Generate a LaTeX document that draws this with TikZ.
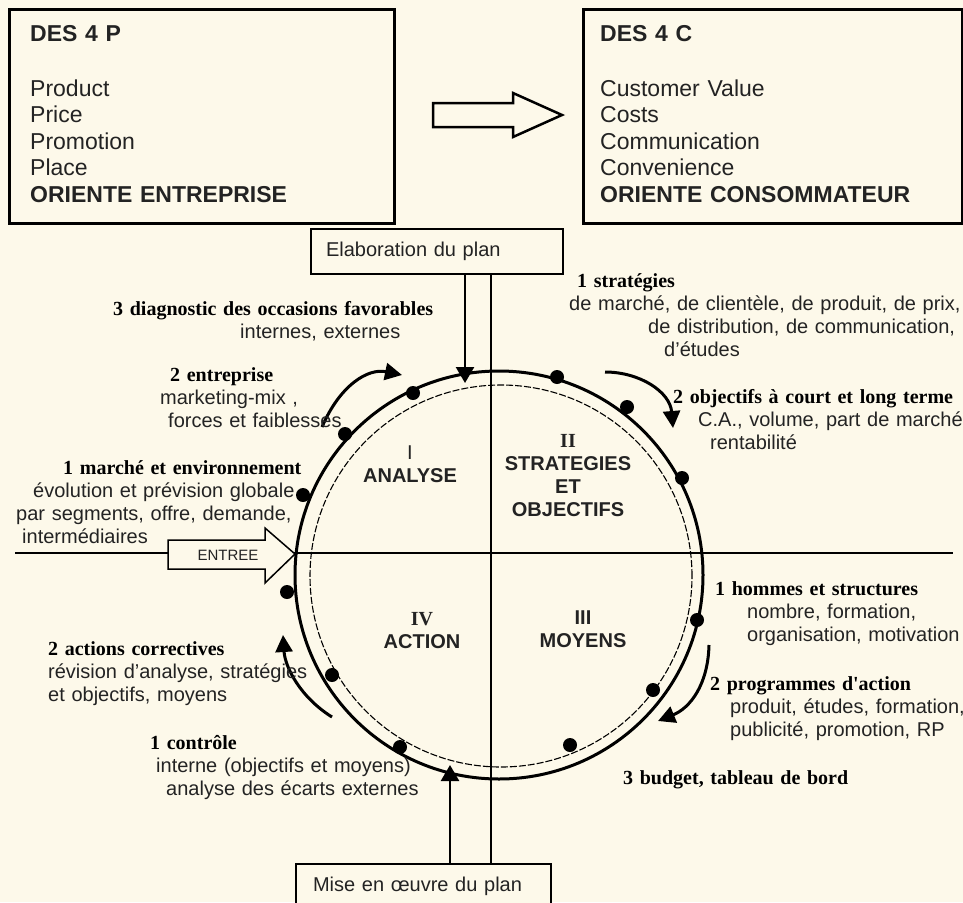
\documentclass[tikz,border=0pt]{standalone}
\usepackage{fontspec}
\setmainfont{Liberation Sans}
\newfontfamily\timesface{Liberation Serif}
\usetikzlibrary{arrows.meta}

\definecolor{paper}{RGB}{253,249,234}
\definecolor{ink}{RGB}{35,35,35}
\newcommand{\tmhead}[1]{{\timesface\bfseries\color{black}#1}}

\tikzset{
  bigbox/.style={draw, line width=2.5pt, anchor=north west, inner sep=0pt},
  boxtext/.style={font=\fontsize{23}{26.5}\selectfont, align=left, text width=345pt,
    inner sep=0pt, anchor=base west, text=ink},
  planbox/.style={draw, line width=2pt, fill=paper, anchor=north west,
    font=\fontsize{20}{23}\selectfont, align=left, text=ink},
  note/.style={font=\fontsize{20}{23}\selectfont, align=left, text width=330pt,
    inner sep=0pt, anchor=base west, text=ink},
  quad/.style={font=\bfseries\fontsize{20}{23}\selectfont, align=center, text width=150pt,
    inner sep=0pt, anchor=base, text=ink},
  blockarrow/.style={draw, line width=2.5pt, fill=paper, line join=miter},
  axis/.style={line width=2pt},
  feed/.style={line width=2.5pt, -{Triangle[length=16pt,width=18pt]}},
  loopback/.style={line width=3pt, -{Triangle[length=17pt,width=17pt]}},
  dot/.style={circle, fill, inner sep=0pt, minimum size=14pt},
}

\begin{document}
\begin{tikzpicture}[x=1pt, y=-1pt]
  \useasboundingbox (0,0) rectangle (963,902);
  \fill[paper] (0,0) rectangle (963,902);

  %% the two marketing mixes
  \node[bigbox, minimum width=385pt, minimum height=214pt] (box4p) at (8,8) {};
  \node[boxtext] (txt4p) at (30,41) {\textbf{DES 4 P}\\[28.5pt]Product\\Price\\Promotion\\Place\\\textbf{ORIENTE ENTREPRISE}};
  \node[bigbox, minimum width=379pt, minimum height=214pt] (box4c) at (582,8) {};
  \node[boxtext] (txt4c) at (600,41) {\textbf{DES 4 C}\\[28.5pt]Customer Value\\Costs\\Communication\\Convenience\\\textbf{ORIENTE CONSOMMATEUR}};
  \draw[blockarrow] (433,103) -- (513,103) -- (513,93) -- (562,115)
    -- (513,137) -- (513,127) -- (433,127) -- cycle; %% 4P -> 4C

  %% plan boxes
  \node[planbox, text width=222pt, inner xsep=15pt, minimum height=45pt] (elab) at (310,228) {Elaboration du plan};
  \node[planbox, text width=221pt, inner xsep=17pt, minimum height=45pt] (mise) at (295,863) {Mise en œuvre du plan};

  %% axes of the cycle
  \coordinate (hub) at (491,553);
  \coordinate (axisW) at (15,553);
  \coordinate (axisE) at (953,553);
  \draw[axis] (axisW) -- (axisE);
  \draw[axis] (elab.south -| hub) -- (mise.north -| hub);

  %% the cycle
  \node[circle, draw, line width=3pt, inner sep=0pt, minimum size=408pt] (outer) at (499,575) {};
  \node[circle, draw, line width=1.1pt, dash pattern=on 7pt off 2pt, inner sep=0pt, minimum size=382pt] (inner) at (501,576) {};
  \foreach \x/\y [count=\i] in {413/393, 345/434, 303/495, 557/377, 627/407, 682/478,
      287/592, 332/675, 400/747, 697/620, 653/690, 570/745}
    \node[dot] (step\i) at (\x,\y) {};

  %% entry arrow
  \draw[blockarrow, line width=1.5pt] (168,540) -- (265,540) -- (265,528) -- (295,554)
    -- (265,583) -- (265,569) -- (168,569) -- cycle;
  \node[font=\fontsize{15}{18}\selectfont, text=ink, inner sep=0pt] (entree) at (228,555) {ENTREE};

  %% plan -> cycle, cycle <- mise en oeuvre
  \coordinate (inTop) at (465,383);
  \coordinate (inBot) at (450,765);
  \draw[feed] (elab.south -| inTop) -- (inTop);
  \draw[feed] (mise.north -| inBot) -- (inBot);

  %% turning arrows
  \coordinate (loopA0) at (322,427); \coordinate (loopA1) at (402,375);
  \coordinate (loopB0) at (605,372); \coordinate (loopB1) at (673,428);
  \coordinate (loopC0) at (709,645); \coordinate (loopC1) at (658,721);
  \coordinate (loopD0) at (332,717); \coordinate (loopD1) at (283,635);
  \draw[loopback] (loopA0) .. controls (340,385) and (368,368) .. (loopA1);
  \draw[loopback] (loopB0) .. controls (640,372) and (670,392) .. (loopB1);
  \draw[loopback] (loopC0) .. controls (708,685) and (690,708) .. (loopC1);
  \draw[loopback] (loopD0) .. controls (300,697) and (285,667) .. (loopD1);

  %% quarters
  \node[quad] (qI) at (410,459) {{\mdseries I}\\ANALYSE};
  \node[quad] (qII) at (568,447) {{\timesface II}\\STRATEGIES\\ET\\OBJECTIFS};
  \node[quad] (qIII) at (583,624) {III\\MOYENS};
  \node[quad] (qIV) at (422,625) {{\timesface IV}\\ACTION};

  %% I analyse
  \node[note] (diag) at (113,315) {\tmhead{3 diagnostic des occasions favorables}\\\hspace*{127pt}internes, externes};
  \node[note] (entr) at (160,381) {\hspace*{10pt}\tmhead{2 entreprise}\\marketing-mix ,\\\hspace*{8pt}forces et faiblesses};
  \node[note] (march) at (16,474) {\hspace*{47pt}\tmhead{1 marché et environnement}\\\hspace*{17pt}évolution et prévision globale\\par segments, offre, demande,\\\hspace*{6pt}intermédiaires};

  %% II strategies
  \node[note, text width=392pt] (strat) at (569,287) {\hspace*{8pt}\tmhead{1 stratégies}\\de marché, de clientèle, de produit, de prix,\\\hspace*{79pt}de distribution, de communication,\\\hspace*{95pt}d'études};
  \node[note, text width=292pt] (obj) at (673,403) {\tmhead{2 objectifs à court et long terme}\\\hspace*{25pt}C.A., volume, part de marché\\\hspace*{37pt}rentabilité};

  %% III moyens
  \node[note, text width=248pt] (homm) at (715,595) {\tmhead{1 hommes et structures}\\\hspace*{32pt}nombre, formation,\\\hspace*{32pt}organisation, motivation};
  \node[note, text width=268pt] (prog) at (710,690) {\tmhead{2 programmes d'action}\\\hspace*{20pt}produit, études, formation,\\\hspace*{20pt}publicité, promotion, RP};
  \node[note] (budg) at (623,784) {\tmhead{3 budget, tableau de bord}};

  %% IV action
  \node[note] (corr) at (48,655) {\tmhead{2 actions correctives}\\révision d'analyse, stratégies\\et objectifs, moyens};
  \node[note] (ctrl) at (150,749) {\tmhead{1 contrôle}\\\hspace*{6pt}interne (objectifs et moyens)\\\hspace*{16pt}analyse des écarts externes};

\end{tikzpicture}
\end{document}
